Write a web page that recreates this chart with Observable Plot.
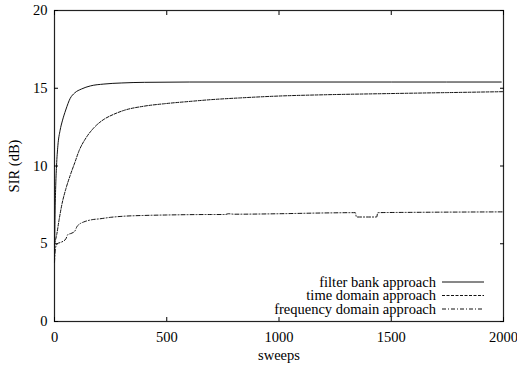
<!DOCTYPE html>
<html>
<head>
<meta charset="utf-8">
<script src="https://cdn.jsdelivr.net/npm/d3@7"></script>
<script src="https://cdn.jsdelivr.net/npm/@observablehq/plot@0.6"></script>
<style>
  html, body { margin: 0; padding: 0; background: #fff; }
  svg { display: block; }
  svg text { font-family: "Liberation Serif", "Times New Roman", serif; }
</style>
</head>
<body>
<div id="chart"></div>
<script>
const xTicks = [0, 500, 1000, 1500, 2000];
const yTicks = [0, 5, 10, 15, 20];
const seriesNames = ["filter bank approach", "time domain approach", "frequency domain approach"];

const filterSweeps = [0, 2, 5, 9, 15, 25, 35, 50, 70, 90, 120, 160, 220, 300, 400, 600, 1000, 1500, 1990];
const filterSIR    = [4.0, 6.5, 8.5, 10.0, 11.3, 12.3, 12.9, 13.6, 14.35, 14.7, 14.95, 15.15, 15.27, 15.34, 15.38, 15.4, 15.4, 15.4, 15.4];

const timeSweeps = [0, 10, 20, 34, 50, 70, 90, 110, 140, 175, 220, 260, 308, 400, 486, 600, 700, 828, 1000, 1200, 1500, 1750, 2000];
const timeSIR    = [5.0, 5.6, 6.5, 7.6, 8.5, 9.4, 10.2, 11.0, 11.8, 12.45, 13.0, 13.3, 13.57, 13.85, 14.0, 14.15, 14.27, 14.38, 14.5, 14.58, 14.66, 14.72, 14.78];

const freqSweeps = [0, 4, 12, 30, 50, 60, 71, 90, 100, 115, 130, 168, 200, 250, 308, 400, 500, 700, 760, 775, 800, 1000, 1200, 1340, 1345, 1435, 1440, 1600, 2000];
const freqSIR    = [3.8, 4.7, 5.0, 5.1, 5.3, 5.6, 5.65, 5.8, 6.1, 6.3, 6.4, 6.55, 6.6, 6.7, 6.77, 6.82, 6.85, 6.88, 6.88, 6.93, 6.9, 6.93, 6.98, 7.0, 6.72, 6.72, 7.0, 7.02, 7.05];

const dashes = [null, "3,1.5", "4,2,1,2"];
const sweepsList = [filterSweeps, timeSweeps, freqSweeps];
const sirList = [filterSIR, timeSIR, freqSIR];

const data = [];
seriesNames.forEach((name, i) => {
  sweepsList[i].forEach((s, j) => data.push({series: name, sweeps: s, sir: sirList[i][j]}));
});

const font = "Liberation Serif, Times New Roman, serif";
const fmt = d3.format("d");

const marks = [
  Plot.frame({stroke: "#222", strokeWidth: 1.2}),
  Plot.axisX({anchor: "bottom", ticks: xTicks, tickFormat: fmt, tickSize: -4, tickPadding: 14, label: "sweeps", labelAnchor: "center", labelArrow: "none", labelOffset: 38, fontSize: 14.5}),
  Plot.axisX({anchor: "top", ticks: xTicks, tickSize: -4, tickFormat: () => "", label: null}),
  Plot.axisY({anchor: "left", ticks: yTicks, tickFormat: fmt, tickSize: -4, tickPadding: 11, label: "SIR (dB)", labelAnchor: "center", labelArrow: "none", labelOffset: 46, fontSize: 14.5}),
  Plot.axisY({anchor: "right", ticks: yTicks, tickSize: -4, tickFormat: () => "", label: null})
];
seriesNames.forEach((name, i) => {
  marks.push(Plot.line(data.filter(d => d.series === name), {
    x: "sweeps", y: "sir", stroke: "#111", strokeWidth: 1,
    strokeDasharray: dashes[i], curve: "monotone-x"
  }));
});

const plot = Plot.plot({
  width: 517,
  height: 368,
  marginLeft: 54,
  marginRight: 14,
  marginTop: 10,
  marginBottom: 47,
  style: {fontFamily: font, fontSize: "14.5px", color: "#000", background: "#fff"},
  x: {domain: [0, 2000]},
  y: {domain: [0, 20]},
  marks
});

// legend inside plot, bottom right
const svg = d3.select(plot);
const legendRows = [282, 295.5, 309];
const g = svg.append("g").style("font-size", "14.5px");
seriesNames.forEach((name, i) => {
  g.append("text").attr("x", 436).attr("y", legendRows[i]).attr("dy", "0.32em")
    .attr("text-anchor", "end").attr("fill", "#000").text(name);
  g.append("line").attr("x1", 442).attr("x2", 484).attr("y1", legendRows[i]).attr("y2", legendRows[i])
    .attr("stroke", "#111").attr("stroke-width", 1).attr("stroke-dasharray", dashes[i]);
});

document.getElementById("chart").appendChild(plot);
</script>
</body>
</html>
